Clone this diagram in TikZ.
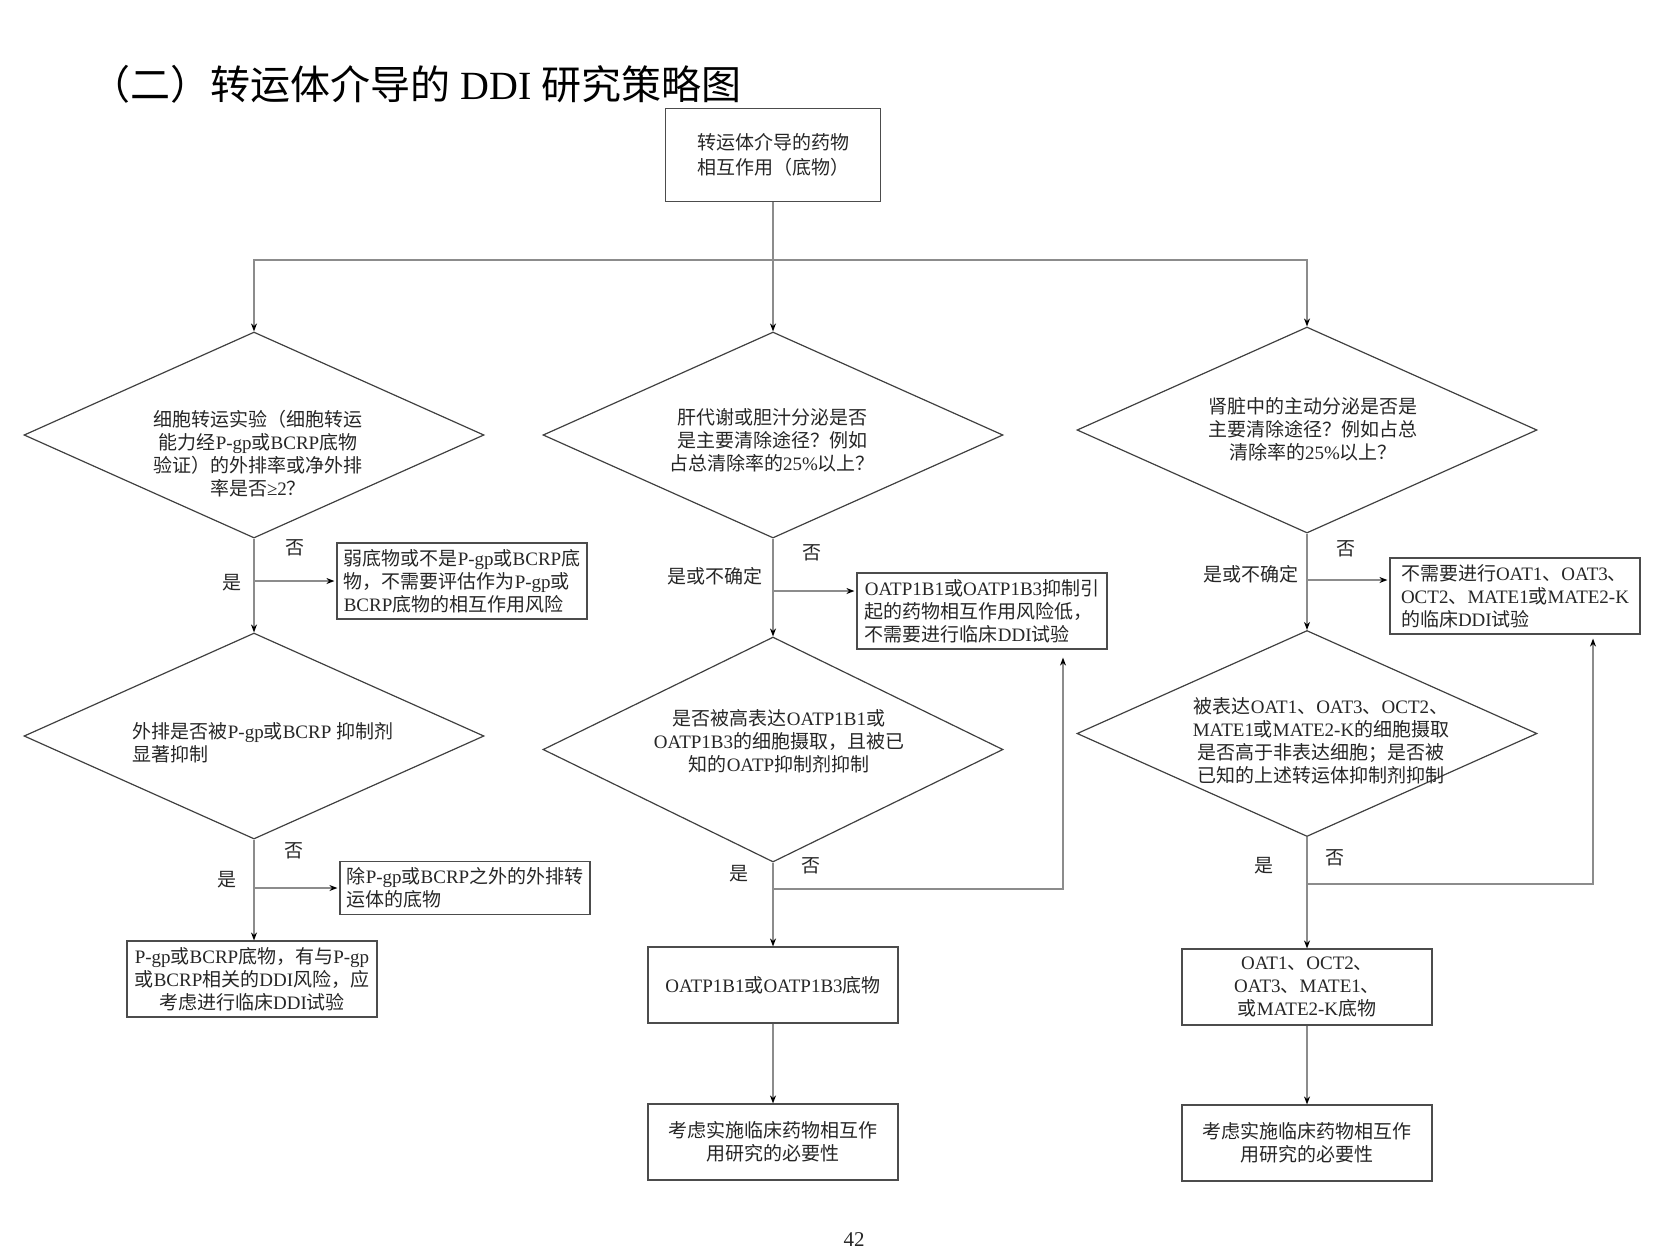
\documentclass[tikz,border=0pt]{standalone}
\usepackage{fontspec}
\setmainfont{Liberation Serif}
\newfontfamily\cjkfont{Noto Sans CJK SC}
\usetikzlibrary{shapes.geometric,arrows.meta}

% Chinese characters are set in the CJK font, the rest in the main font
\XeTeXinterchartokenstate=1
\newXeTeXintercharclass\cjkclass
\newcommand\setcjkrange[2]{%
  \count255=#1
  \loop
    \XeTeXcharclass\count255=\cjkclass
  \ifnum\count255<#2 \advance\count255 by 1 \repeat}
\setcjkrange{"3000}{"303F}
\setcjkrange{"4E00}{"9FFF}
\setcjkrange{"FF00}{"FFEF}
\XeTeXinterchartoks 0 \cjkclass = {\cjkfont}
\XeTeXinterchartoks 4095 \cjkclass = {\cjkfont}
\XeTeXinterchartoks \cjkclass 0 = {\rmfamily}
\XeTeXinterchartoks \cjkclass 4095 = {\rmfamily}

\begin{document}
\begin{tikzpicture}[
    x=0.5pt, y=-0.5pt,
    box/.style={draw=black!70, line width=0.6pt, minimum width=125pt, minimum height=38pt, inner sep=2pt, align=center, text=black!85, font=\fontsize{9.5pt}{11.5pt}\selectfont},
    decision/.style={diamond, draw=black!75, line width=0.6pt, aspect=2.2, inner sep=0pt, minimum width=230pt, minimum height=103pt},
    qtext/.style={inner sep=0pt, align=center, text=black!85, font=\fontsize{9.5pt}{11.5pt}\selectfont},
    answer/.style={inner sep=0pt, text=black!85, font=\fontsize{9.5pt}{11.5pt}\selectfont},
    arrow/.style={-{Stealth[length=4pt,width=3pt,black]}, draw=black!45, line width=0.6pt}
]
\useasboundingbox (0,0) rectangle (1664,1255);

% Title
\node[anchor=west, inner sep=0pt, font=\fontsize{20pt}{22pt}\selectfont] (title) at (90,84) {（二）转运体介导的 DDI 研究策略图};

% Start
\node[box, minimum width=107.5pt, minimum height=46.5pt, inner ysep=5pt] (start) at (773,155) {\strut 转运体介导的药物\\相互作用（底物）};

% First decisions
\node[decision] (cellq) at (254,435) {};
\node[qtext] (cellqt) at (258,454) {细胞转运实验（细胞转运\\能力经P-gp或BCRP底物\\验证）的外排率或净外排\\率是否≥2？};
\node[decision] (hepq) at (773,435) {};
\node[qtext] (hepqt) at (772,440) {肝代谢或胆汁分泌是否\\是主要清除途径？例如\\占总清除率的25\%以上？};
\node[decision] (renq) at (1307,430) {};
\node[qtext] (renqt) at (1313,429) {肾脏中的主动分泌是否是\\主要清除途径？例如占总\\清除率的25\%以上？};

% Side results of the first decisions
\node[box, align=left] (weak) at (462,581) {弱底物或不是P-gp或BCRP底\\物，不需要评估作为P-gp或\\BCRP底物的相互作用风险};
\node[box, align=left] (lowrisk) at (982,611) {OATP1B1或OATP1B3抑制引\\起的药物相互作用风险低，\\不需要进行临床DDI试验};
\node[box, align=left] (noren) at (1515,596) {不需要进行OAT1、OAT3、\\OCT2、MATE1或MATE2-K\\的临床DDI试验};

% Second decisions
\node[decision] (inhq) at (254,736) {};
\node[qtext, align=left] (inhqt) at (263,743) {外排是否被P-gp或BCRP 抑制剂\\显著抑制};
\node[decision, minimum height=112.5pt] (oatpq) at (773,749.5) {};
\node[qtext] (oatpqt) at (779,741) {是否被高表达OATP1B1或\\OATP1B3的细胞摄取，且被已\\知的OATP抑制剂抑制};
\node[decision] (octq) at (1307,733.5) {};
\node[qtext] (octqt) at (1321,741) {被表达OAT1、OAT3、OCT2、\\MATE1或MATE2-K的细胞摄取\\是否高于非表达细胞；是否被\\已知的上述转运体抑制剂抑制};

% Results
\node[box, align=left, minimum height=26.5pt] (other) at (465,888) {除P-gp或BCRP之外的外排转\\运体的底物};
\node[box] (pgpsub) at (252,979) {P-gp或BCRP底物，有与P-gp\\或BCRP相关的DDI风险，应\\考虑进行临床DDI试验};
\node[box] (oatpsub) at (773,985) {OATP1B1或OATP1B3底物};
\node[box] (oatpnext) at (773,1142) {考虑实施临床药物相互作\\用研究的必要性};
\node[box] (octsub) at (1307,987) {OAT1、OCT2、\\OAT3、MATE1、\\或MATE2-K底物};
\node[box] (octnext) at (1307,1143) {考虑实施临床药物相互作\\用研究的必要性};

% Answers
\node[answer] (no1) at (295,548) {否};
\node[answer] (yes1) at (232,583) {是};
\node[answer] (no2) at (812,553) {否};
\node[answer] (yes2) at (715,576) {是或不确定};
\node[answer] (no3) at (1346,549) {否};
\node[answer] (yes3) at (1251,574) {是或不确定};
\node[answer] (no4) at (294,851) {否};
\node[answer] (yes4) at (227,880) {是};
\node[answer] (no5) at (811,866) {否};
\node[answer] (yes5) at (739,874) {是};
\node[answer] (no6) at (1335,858) {否};
\node[answer] (yes6) at (1264,866) {是};

% Page number
\node[answer, font=\fontsize{10.5pt}{12pt}\selectfont] (page) at (854,1240) {42};

% Arrows
\coordinate (fork) at (773,260);
\coordinate (toLow) at ([yshift=10pt]lowrisk.west);
\coordinate (toNoren) at ([yshift=8pt]noren.west);
\coordinate (oatpno) at (773,889);
\coordinate (octno) at (1307,884);
\draw[arrow] (start.south) -- (hepq.north);
\draw[arrow] (fork) -| (cellq.north);
\draw[arrow] (fork) -| (renq.north);
\draw[arrow] (cellq.south) -- (inhq.north);
\draw[arrow, shorten >=1pt] (weak.west -| cellq.south) -- (weak.west);
\draw[arrow] (hepq.south) -- (oatpq.north);
\draw[arrow, shorten >=1pt] (toLow -| hepq.south) -- (toLow);
\draw[arrow] (renq.south) -- (octq.north);
\draw[arrow, shorten >=1pt] (toNoren -| renq.south) -- (toNoren);
\draw[arrow] (inhq.south) -- (inhq.south |- pgpsub.north);
\draw[arrow, shorten >=1pt] (other.west -| inhq.south) -- (other.west);
\draw[arrow] (oatpq.south) -- (oatpsub.north);
\draw[arrow] (oatpno) -| ([xshift=40.5pt,yshift=-4pt]lowrisk.south);
\draw[arrow] (octq.south) -- (octsub.north);
\draw[arrow] (octno) -| ([xshift=39pt,yshift=-2pt]noren.south);
\draw[arrow] (oatpsub) -- (oatpnext);
\draw[arrow] (octsub) -- (octnext);
\end{tikzpicture}
\end{document}
